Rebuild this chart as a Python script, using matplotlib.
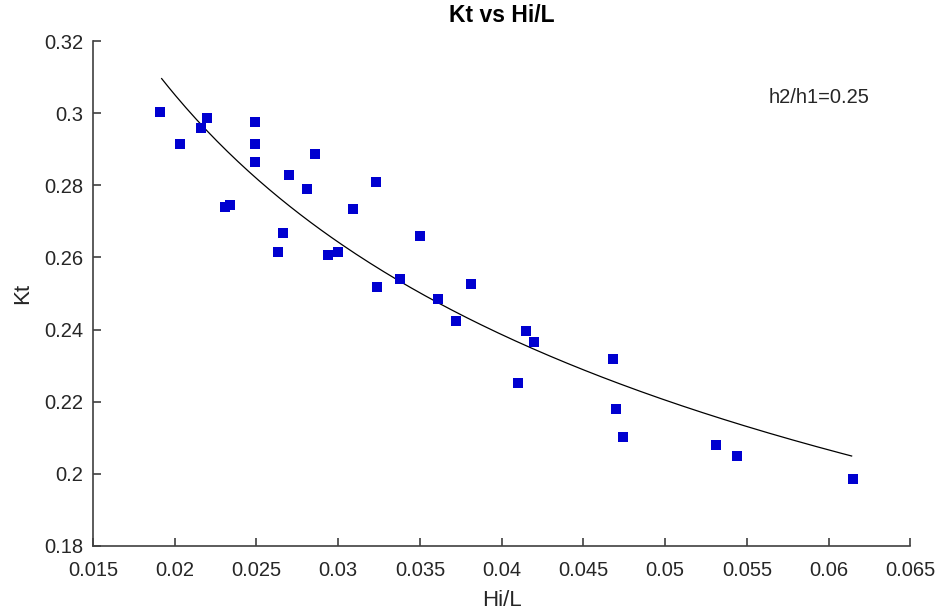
import numpy as np
import matplotlib
matplotlib.use('Agg')
import matplotlib.pyplot as plt

plt.rcParams['font.family'] = ['Liberation Sans', 'DejaVu Sans']

# datos
hi_l = [0.0191, 0.0203, 0.0216, 0.0220, 0.0231, 0.0234, 0.0249, 0.0249, 0.0249,
        0.0263, 0.0266, 0.0270, 0.0281, 0.0286, 0.0294, 0.0300, 0.0309, 0.0323,
        0.0324, 0.0338, 0.0350, 0.0361, 0.0372, 0.0381, 0.0410, 0.0415, 0.0420,
        0.0468, 0.0470, 0.0474, 0.0531, 0.0544, 0.0615]
kt = [0.3003, 0.2914, 0.2959, 0.2986, 0.2740, 0.2745, 0.2975, 0.2914, 0.2864,
      0.2615, 0.2667, 0.2829, 0.2789, 0.2887, 0.2606, 0.2615, 0.2734, 0.2809,
      0.2518, 0.2540, 0.2659, 0.2484, 0.2423, 0.2526, 0.2251, 0.2396, 0.2365,
      0.2318, 0.2179, 0.2102, 0.2079, 0.2049, 0.1985]

# curva de ajuste potencial Kt = a * (Hi/L)^b
a = 0.0761
b = -0.355
x_min, x_max = 0.0192, 0.0614

fig = plt.figure(figsize=(9.44, 6.14), dpi=100)
ax = fig.add_axes([0.0985, 0.111, 0.866, 0.822])

xc = np.linspace(x_min, x_max, 200)
ax.plot(xc, a * xc ** b, color='black', linewidth=0.9)
ax.plot(hi_l, kt, 's', color='#0000d0', markersize=7.5, markeredgewidth=0)

ax.set_xlim(0.015, 0.065)
ax.set_ylim(0.18, 0.32)
ax.set_xticks(np.arange(0.015, 0.0651, 0.005))
ax.set_xticklabels(['0.015', '0.02', '0.025', '0.03', '0.035', '0.04', '0.045',
                    '0.05', '0.055', '0.06', '0.065'])
ax.set_yticks(np.arange(0.18, 0.3201, 0.02))
ax.set_yticklabels(['0.18', '0.2', '0.22', '0.24', '0.26', '0.28', '0.3', '0.32'])

for s in ['top', 'right']:
    ax.spines[s].set_visible(False)
for s in ['left', 'bottom']:
    ax.spines[s].set_color('#404040')
    ax.spines[s].set_linewidth(1.2)
ax.tick_params(direction='in', length=6, width=1.2, color='#404040',
               labelsize=14.5, labelcolor='#262626')
ax.tick_params(axis='x', pad=11)
ax.tick_params(axis='y', pad=7)

ax.set_title('Kt vs Hi/L', fontsize=16.5, fontweight='bold', pad=14)
ax.set_xlabel('Hi/L', fontsize=16, color='#262626', labelpad=7)
ax.set_ylabel('Kt', fontsize=16, color='#262626', labelpad=8)
ax.text(0.0594, 0.3045, 'h2/h1=0.25', fontsize=14.5, ha='center', va='center',
        color='#262626')

fig.savefig('out.png', dpi=100)
